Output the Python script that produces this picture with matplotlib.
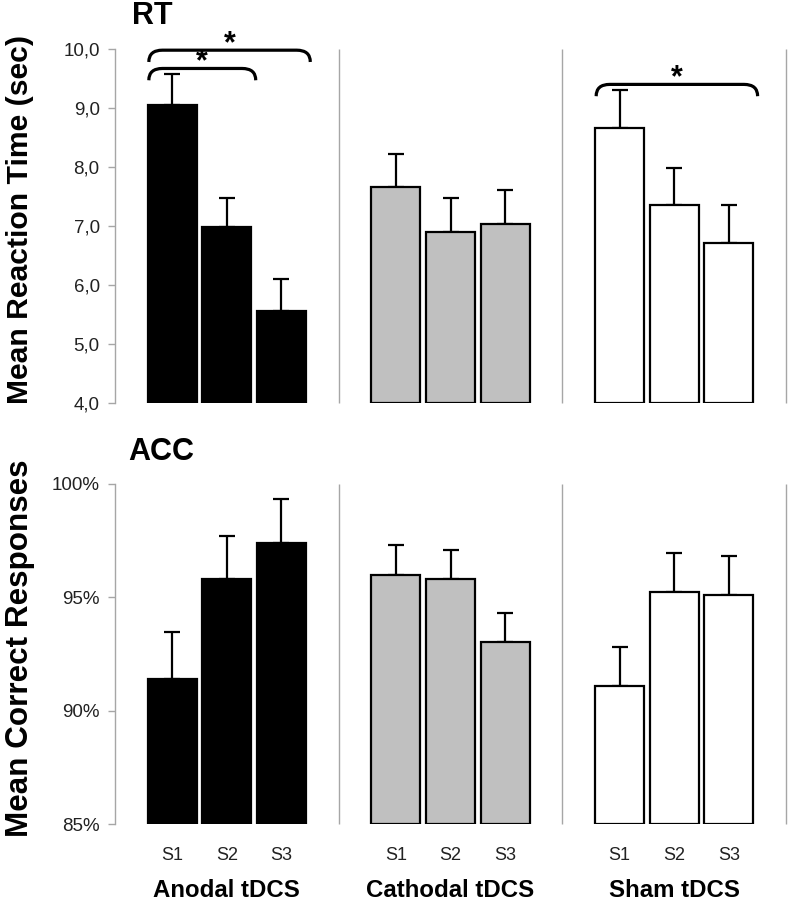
import matplotlib
matplotlib.use("Agg")
import matplotlib.pyplot as plt
from matplotlib.path import Path
from matplotlib.patches import PathPatch
import matplotlib.transforms as mtransforms
import numpy as np

plt.rcParams['font.family'] = ['Liberation Sans', 'DejaVu Sans']

# ---------------- data ----------------
groups = ['Anodal tDCS', 'Cathodal tDCS', 'Sham tDCS']
sessions = ['S1', 'S2', 'S3']
group_colors = ['#000000', '#c0c0c0', '#ffffff']

rt_anodal = [9.05, 6.99, 5.56]
rt_anodal_err = [0.53, 0.48, 0.54]
rt_cathodal = [7.66, 6.90, 7.04]
rt_cathodal_err = [0.56, 0.57, 0.57]
rt_sham = [8.66, 7.36, 6.72]
rt_sham_err = [0.65, 0.63, 0.64]

acc_anodal = [91.4, 95.8, 97.4]
acc_anodal_err = [2.05, 1.90, 1.92]
acc_cathodal = [96.0, 95.8, 93.04]
acc_cathodal_err = [1.28, 1.29, 1.26]
acc_sham = [91.1, 95.23, 95.11]
acc_sham_err = [1.70, 1.73, 1.70]

rt_ticks = [4, 5, 6, 7, 8, 9, 10]
rt_ticklabels = ['4,0', '5,0', '6,0', '7,0', '8,0', '9,0', '10,0']
acc_ticks = [85, 90, 95, 100]
acc_ticklabels = ['85%', '90%', '95%', '100%']

# significance brackets: (group index, first bar, last bar, height)
rt_brackets = [(0, 0, 1, 9.67), (0, 0, 2, 9.98), (2, 0, 2, 9.40)]

# ---------------- layout ----------------
W, H = 788, 900
fig = plt.figure(figsize=(W / 100, H / 100), dpi=100)

SW = 4.1      # section width (data units)
BW = 0.9      # bar width
AX_L, AX_R = 115, 786

def ax_rect(top_px, bot_px):
    return [AX_L / W, 1 - bot_px / H, (AX_R - AX_L) / W, (bot_px - top_px) / H]

ax_rt = fig.add_axes(ax_rect(49, 403))
ax_acc = fig.add_axes(ax_rect(483.7, 824.3))

def bar_x(g):
    return [g * SW + SW / 2 + (i - 1) for i in range(3)]

def draw_panel(ax, series, errs, ylim, ticks, ticklabels):
    for g, (vals, err) in enumerate(zip(series, errs)):
        xs = bar_x(g)
        base = ylim[0]
        ax.bar(xs, np.array(vals) - base, bottom=base, width=BW,
               color=group_colors[g], edgecolor='black', linewidth=1.6, zorder=3)
        ax.errorbar(xs, vals, yerr=[np.zeros(3), err], fmt='none',
                    ecolor='black', elinewidth=1.6, capsize=5.5, capthick=1.6,
                    zorder=2, clip_on=False)
    ax.set_xlim(0, 3 * SW)
    ax.set_ylim(*ylim)
    ax.vlines([SW, 2 * SW, 3 * SW], ylim[0], ylim[1], color='#a6a6a6',
              linewidth=1.0, clip_on=False, zorder=1)
    for s in ['top', 'right', 'bottom']:
        ax.spines[s].set_visible(False)
    ax.spines['left'].set_color('#a6a6a6')
    ax.spines['left'].set_linewidth(1.0)
    ax.set_yticks(ticks)
    ax.set_yticklabels(ticklabels)
    ax.tick_params(axis='y', direction='out', length=5, width=1.0,
                   color='#a6a6a6', labelcolor='#222222', labelsize=13.5, pad=6)
    ax.set_xticks([])
    ax.set_facecolor('none')

draw_panel(ax_rt, [rt_anodal, rt_cathodal, rt_sham],
           [rt_anodal_err, rt_cathodal_err, rt_sham_err],
           (4, 10), rt_ticks, rt_ticklabels)
draw_panel(ax_acc, [acc_anodal, acc_cathodal, acc_sham],
           [acc_anodal_err, acc_cathodal_err, acc_sham_err],
           (85, 100), acc_ticks, acc_ticklabels)

# brackets
def bracket(ax, x0, x1, y, drop=0.2, r=0.25):
    verts = [(x0, y - drop), (x0, y), (x0 + r, y), (x1 - r, y), (x1, y), (x1, y - drop)]
    codes = [Path.MOVETO, Path.CURVE3, Path.CURVE3, Path.LINETO, Path.CURVE3, Path.CURVE3]
    ax.add_patch(PathPatch(Path(verts, codes), fill=False, edgecolor='black',
                           linewidth=2.3, clip_on=False, zorder=4))
    ax.text((x0 + x1) / 2, y - 0.03, '*', ha='center', va='baseline',
            fontsize=22, fontweight='bold', color='black', clip_on=False)

for g, i, j, h in rt_brackets:
    xs = bar_x(g)
    bracket(ax_rt, xs[i] - BW / 2 + 0.02, xs[j] + BW / 2 + 0.08, h)

# x labels under ACC panel
trans = mtransforms.blended_transform_factory(ax_acc.transData, ax_acc.transAxes)
for g in range(3):
    xs = bar_x(g)
    for i, s in enumerate(sessions):
        ax_acc.text(xs[i], -0.091, s, transform=trans, ha='center', va='center',
                    fontsize=13, color='#222222')
    ax_acc.text(g * SW + SW / 2, -0.193, groups[g], transform=trans,
                ha='center', va='center', fontsize=17.3, fontweight='bold')

# panel titles
fig.text(132 / W, 1 - 16 / H, 'RT', fontsize=22, fontweight='bold', va='center', ha='left')
fig.text(128 / W, 1 - 452 / H, 'ACC', fontsize=22, fontweight='bold', va='center', ha='left')

# y labels
fig.text(20 / W, 1 - 220 / H, 'Mean Reaction Time (sec)', rotation=90,
         fontsize=21.7, fontweight='bold', ha='center', va='center')
fig.text(20 / W, 1 - 648 / H, 'Mean Correct Responses', rotation=90,
         fontsize=22.6, fontweight='bold', ha='center', va='center')

fig.savefig('out.png', dpi=100, facecolor='white')
